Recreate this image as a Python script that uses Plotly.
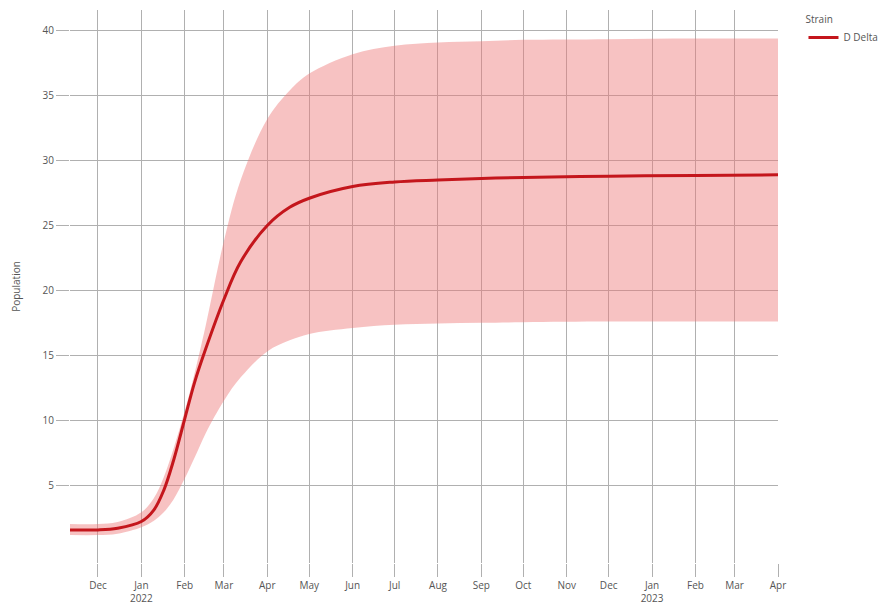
import plotly.graph_objects as go

# Modelled population of the Delta strain: median and uncertainty band
dates = [
    "2021-11-11", "2021-12-01", "2021-12-15", "2022-01-01", "2022-01-10",
    "2022-01-17", "2022-01-24", "2022-02-01", "2022-02-08", "2022-02-16",
    "2022-03-01", "2022-03-13", "2022-04-01", "2022-04-17", "2022-05-01",
    "2022-06-01", "2022-07-01", "2022-08-01", "2022-09-01", "2022-10-01",
    "2022-12-01", "2023-02-01", "2023-04-01",
]
median = [
    1.55, 1.55, 1.68, 2.2, 3.1,
    4.6, 6.9, 10.1, 12.9, 15.5,
    19.3, 22.2, 25.0, 26.4, 27.1,
    28.0, 28.35, 28.5, 28.62, 28.7,
    28.8, 28.85, 28.9,
]
lower = [
    1.15, 1.15, 1.25, 1.75, 2.25,
    2.9, 3.9, 5.5, 7.1, 9.0,
    11.5, 13.3, 15.3, 16.15, 16.65,
    17.1, 17.35, 17.45, 17.5, 17.55,
    17.6, 17.6, 17.6,
]
upper = [
    2.0, 2.0, 2.15, 2.9, 4.0,
    5.6, 7.8, 10.7, 13.6, 17.3,
    23.8, 28.5, 33.2, 35.4, 36.7,
    38.2, 38.85, 39.1, 39.2, 39.3,
    39.35, 39.4, 39.4,
]

series_name = "D Delta"
legend_title = "Strain"

tick_dates = [
    "2021-12-01", "2022-01-01", "2022-02-01", "2022-03-01", "2022-04-01",
    "2022-05-01", "2022-06-01", "2022-07-01", "2022-08-01", "2022-09-01",
    "2022-10-01", "2022-11-01", "2022-12-01", "2023-01-01", "2023-02-01",
    "2023-03-01", "2023-04-01",
]
tick_text = [
    "Dec", "Jan<br>2022", "Feb", "Mar", "Apr", "May", "Jun", "Jul", "Aug",
    "Sep", "Oct", "Nov", "Dec", "Jan<br>2023", "Feb", "Mar", "Apr",
]
y_ticks = [5, 10, 15, 20, 25, 30, 35, 40]

line_color = "#c4161c"
band_color = "rgba(238, 120, 120, 0.45)"
grid_color = "#b0b0b0"
text_color = "#555555"

fig = go.Figure()

# uncertainty band: lower edge first, then upper edge filled down to it
fig.add_trace(go.Scatter(
    x=dates, y=lower, mode="lines", line=dict(width=0, shape="spline"),
    showlegend=False, hoverinfo="skip",
))
fig.add_trace(go.Scatter(
    x=dates, y=upper, mode="lines", line=dict(width=0, shape="spline"),
    fill="tonexty", fillcolor=band_color, showlegend=False, hoverinfo="skip",
))
fig.add_trace(go.Scatter(
    x=dates, y=median, mode="lines", name=series_name,
    line=dict(color=line_color, width=3, shape="spline"),
))

fig.update_layout(
    width=882, height=604,
    margin=dict(l=70, r=104, t=10, b=41, autoexpand=False),
    paper_bgcolor="white", plot_bgcolor="white",
    font=dict(family="Open Sans, Arial, sans-serif", size=10, color=text_color),
    legend=dict(
        title=dict(text=legend_title, font=dict(size=10, color=text_color)),
        x=1.036, y=1.0, xanchor="left", yanchor="top",
        font=dict(size=10, color=text_color),
        tracegroupgap=0, itemwidth=30,
    ),
)
fig.update_xaxes(
    type="date", range=[dates[0], dates[-1]],
    tickvals=tick_dates, ticktext=tick_text,
    showgrid=True, gridcolor=grid_color, gridwidth=1,
    ticks="outside", ticklen=13, tickcolor=grid_color,
    showline=False, zeroline=False,
    tickfont=dict(size=10, color=text_color),
)
fig.update_yaxes(
    range=[-1.0, 41.6], tickvals=y_ticks,
    showgrid=True, gridcolor=grid_color, gridwidth=1,
    ticks="outside", ticklen=13, tickcolor=grid_color,
    showline=False, zeroline=False,
    title=dict(text="Population", standoff=20, font=dict(size=10, color=text_color)),
    tickfont=dict(size=10, color=text_color),
)

fig.write_html("out.html")
